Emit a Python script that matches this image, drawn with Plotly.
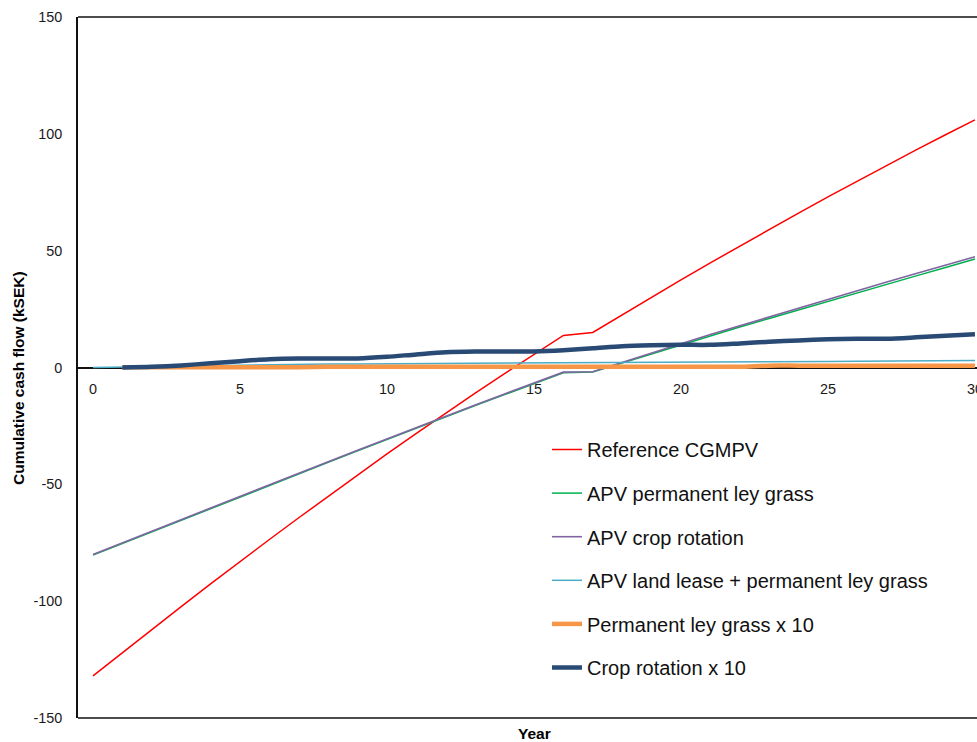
import plotly.graph_objects as go

# Project years
years = list(range(0, 31))
years_crop = list(range(1, 31))

# Axis tick values and labels
x_ticks = [0, 5, 10, 15, 20, 25, 30]
y_ticks = [-150, -100, -50, 0, 50, 100, 150]
y_tick_labels = ["-150", "-100", "-50", "0", "50", "100", "150"]

# Cumulative cash flow (kSEK)
reference_cgmpv = [-132, -122, -112.1, -102.3, -92.6, -83, -73.6, -64.3, -55.1, -46,
                   -37, -28.2, -19.5, -11, -2.6, 5.6, 13.7, 15, 22.6, 30.1,
                   37.5, 44.8, 52, 59.1, 66.1, 73, 79.8, 86.5, 93.1, 99.6, 106]
apv_ley_grass = [-80.3, -75.3, -70.3, -65.3, -60.3, -55.3, -50.4, -45.5, -40.6, -35.7,
                 -30.8, -25.9, -21.1, -16.3, -11.6, -6.9, -2.3, -1.9, 2.0, 5.9,
                 9.7, 13.5, 17.3, 21.0, 24.7, 28.4, 32.0, 35.6, 39.2, 42.8, 46.4]
apv_crop_rotation = [-80, -75, -70, -65, -60, -55, -50.1, -45.2, -40.3, -35.4,
                     -30.5, -25.6, -20.8, -16, -11.3, -6.6, -2, -1.8, 2.3, 6.3,
                     10.2, 14.1, 17.9, 21.7, 25.5, 29.2, 32.9, 36.6, 40.2, 43.8, 47.4]
apv_land_lease = [0, 0.2, 0.5, 0.8, 1.0, 1.2, 1.3, 1.4, 1.5, 1.55,
                  1.6, 1.65, 1.7, 1.72, 1.75, 1.8, 1.85, 1.9, 2.0, 2.1,
                  2.2, 2.3, 2.35, 2.4, 2.5, 2.6, 2.7, 2.8, 2.85, 2.9, 3.0]
ley_grass_x10 = [0.1, 0.1, 0.1, 0.1, 0.1, 0.1, 0.1, 0.3, 0.3, 0.3,
                 0.3, 0.3, 0.3, 0.3, 0.3, 0.3, 0.3, 0.3, 0.3, 0.3,
                 0.3, 0.3, 0.8, 0.8, 0.8, 0.8, 0.8, 0.8, 0.8, 0.8]
crop_rotation_x10 = [0, 0.3, 0.9, 1.8, 2.7, 3.5, 3.8, 3.8, 3.9, 4.6,
                     5.6, 6.5, 6.8, 6.9, 6.9, 7.4, 8.2, 9.1, 9.5, 9.7,
                     9.7, 10.3, 11.0, 11.6, 12.1, 12.3, 12.3, 12.9, 13.6, 14.2]

series = [
    ("Reference CGMPV", years, reference_cgmpv, "#FF0000", 1.5, "linear"),
    ("APV permanent ley grass", years, apv_ley_grass, "#00B050", 1.5, "linear"),
    ("APV crop rotation", years, apv_crop_rotation, "#8064A2", 1.6, "linear"),
    ("APV land lease + permanent ley grass", years, apv_land_lease, "#4BACC6", 1.5, "linear"),
    ("Permanent ley grass x 10", years_crop, ley_grass_x10, "#F79646", 4.5, "spline"),
    ("Crop rotation x 10", years_crop, crop_rotation_x10, "#284A75", 4.5, "spline"),
]

FONT = "Liberation Sans, Arial, sans-serif"

fig = go.Figure()
for i, (name, xs, ys, color, width, shape) in enumerate(series):
    fig.add_trace(go.Scatter(
        x=xs, y=ys, name=name, mode="lines",
        line=dict(color=color, width=width, shape=shape, smoothing=0.8),
        legendgroup=f"g{i}",
    ))

W, H = 977, 742
ml, mt, mb, mr = 78, 17, 24, 0
PW, PH = W - ml - mr, H - mt - mb

fig.update_layout(
    width=W, height=H,
    margin=dict(l=ml, r=mr, t=mt, b=mb, pad=0, autoexpand=False),
    paper_bgcolor="white", plot_bgcolor="white",
    font=dict(family=FONT, color="#1a1a1a"),
    showlegend=True,
    legend=dict(
        x=(547 - ml) / PW, y=(718 - 430) / PH,
        xanchor="left", yanchor="top",
        bgcolor="rgba(0,0,0,0)", borderwidth=0,
        font=dict(family=FONT, size=20, color="#111111"),
        tracegroupgap=14.6, itemwidth=30,
    ),
    xaxis=dict(
        range=[-0.51, 30.07], tickmode="array",
        tickvals=x_ticks,
        showgrid=False, zeroline=False, automargin=False,
        anchor="free", position=0.5,
        showline=True, linecolor="#111111", linewidth=1.5,
        ticks="", ticklabelstandoff=8, ticklabeloverflow="allow",
        tickfont=dict(family=FONT, size=14.4, color="#1a1a1a"),
        layer="below traces",
    ),
    yaxis=dict(
        range=[-150, 150], tickmode="array",
        tickvals=y_ticks, ticktext=y_tick_labels,
        showgrid=False, zeroline=False, automargin=False,
        showline=True, linecolor="#111111", linewidth=1.5,
        ticks="", ticklabelstandoff=11,
        tickfont=dict(family=FONT, size=14.4, color="#1a1a1a"),
        layer="below traces",
    ),
)

# Top and bottom border of the plot area
for yy in (0, 1):
    fig.add_shape(type="line", xref="paper", yref="paper",
                  x0=0, x1=1, y0=yy, y1=yy,
                  line=dict(color="#111111", width=1.5), layer="below")

# Axis titles
fig.add_annotation(text="<b>Cumulative cash flow (kSEK)</b>", xref="paper", yref="paper",
                   x=(18 - ml) / PW, y=(718 - 378) / PH,
                   xanchor="center", yanchor="middle", textangle=-90, showarrow=False,
                   font=dict(family=FONT, size=15.5, color="#000000"))
fig.add_annotation(text="<b>Year</b>", xref="paper", yref="paper",
                   x=(534 - ml) / PW, y=(718 - 733) / PH,
                   xanchor="center", yanchor="middle", showarrow=False,
                   font=dict(family=FONT, size=15.5, color="#000000"))

fig.write_html("out.html")
